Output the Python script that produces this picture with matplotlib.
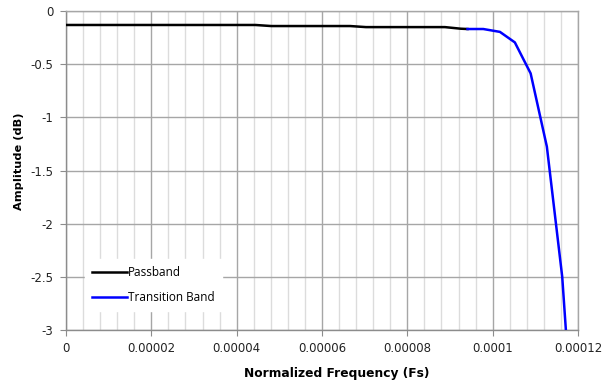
import matplotlib.pyplot as plt
from matplotlib.ticker import MultipleLocator, FuncFormatter

# data
pass_freq = [0.0, 0.0000037, 0.0000074, 0.0000111, 0.0000148, 0.0000185, 0.0000222,
             0.0000259, 0.0000296, 0.0000333, 0.000037, 0.0000407, 0.0000444, 0.0000481,
             0.0000518, 0.0000555, 0.0000592, 0.0000629, 0.0000666, 0.0000703, 0.000074,
             0.0000777, 0.0000814, 0.0000851, 0.0000888, 0.0000925, 0.0000941]
pass_amp = [-0.13, -0.13, -0.13, -0.13, -0.13, -0.13, -0.13,
            -0.13, -0.13, -0.13, -0.13, -0.13, -0.13, -0.14,
            -0.14, -0.14, -0.14, -0.14, -0.14, -0.15, -0.15,
            -0.15, -0.15, -0.15, -0.15, -0.165, -0.168]

trans_freq = [0.0000941, 0.0000978, 0.0001017, 0.0001052, 0.0001089, 0.0001127,
              0.0001163, 0.0001175]
trans_amp = [-0.168, -0.168, -0.195, -0.294, -0.586, -1.275, -2.50, -3.2]

y_ticks = [0, -0.5, -1, -1.5, -2, -2.5, -3]

fig = plt.figure(figsize=(6.11, 3.85), dpi=100)
ax = fig.add_axes([0.108, 0.143, 0.838, 0.828])

plt.rcParams['font.family'] = ['Open Sans', 'DejaVu Sans']

ax.plot(pass_freq, pass_amp, color='black', lw=1.8, label='Passband', zorder=3)
ax.plot(trans_freq, trans_amp, color='#0000ff', lw=1.8, label='Transition Band', zorder=3)

ax.set_xlim(0, 0.00012)
ax.set_ylim(-3, 0)
ax.xaxis.set_major_locator(MultipleLocator(0.00002))
ax.xaxis.set_minor_locator(MultipleLocator(0.000004))
ax.set_yticks(y_ticks)

def fmt_x(v, pos):
    if abs(v) < 1e-12:
        return '0'
    return ('%.5f' % v).rstrip('0')

def fmt_y(v, pos):
    if abs(v) < 1e-12:
        return '0'
    return ('%g' % v)

ax.xaxis.set_major_formatter(FuncFormatter(fmt_x))
ax.yaxis.set_major_formatter(FuncFormatter(fmt_y))

ax.grid(which='major', color='#a6a6a6', lw=1.0, zorder=0)
ax.grid(which='minor', axis='x', color='#dcdcdc', lw=1.0, zorder=0)
ax.set_axisbelow(True)

for s in ax.spines.values():
    s.set_color('#a6a6a6')
    s.set_linewidth(1.0)
ax.spines['left'].set_color('#8c8c8c')
ax.spines['bottom'].set_color('#8c8c8c')

ax.tick_params(which='major', length=4, color='#8c8c8c', labelsize=8.5,
               labelcolor='#222222', pad=5)
ax.tick_params(which='minor', length=0)

ax.set_xlabel('Normalized Frequency (Fs)', fontsize=8.8, fontweight='bold')
ax.set_ylabel('Amplitude (dB)', fontsize=8.2, fontweight='bold')
ax.xaxis.set_label_coords(0.529, -0.115)
ax.yaxis.set_label_coords(-0.082, 0.53)

leg = ax.legend(loc='lower left', bbox_to_anchor=(0.025, 0.04), frameon=True,
                fontsize=8.5, handlelength=3.0, handletextpad=0.1,
                labelspacing=1.0, borderpad=0.6, fancybox=False)
leg.get_frame().set_edgecolor('white')
leg.get_frame().set_facecolor('white')
leg.get_frame().set_alpha(1.0)

fig.savefig('out.png', dpi=100)
